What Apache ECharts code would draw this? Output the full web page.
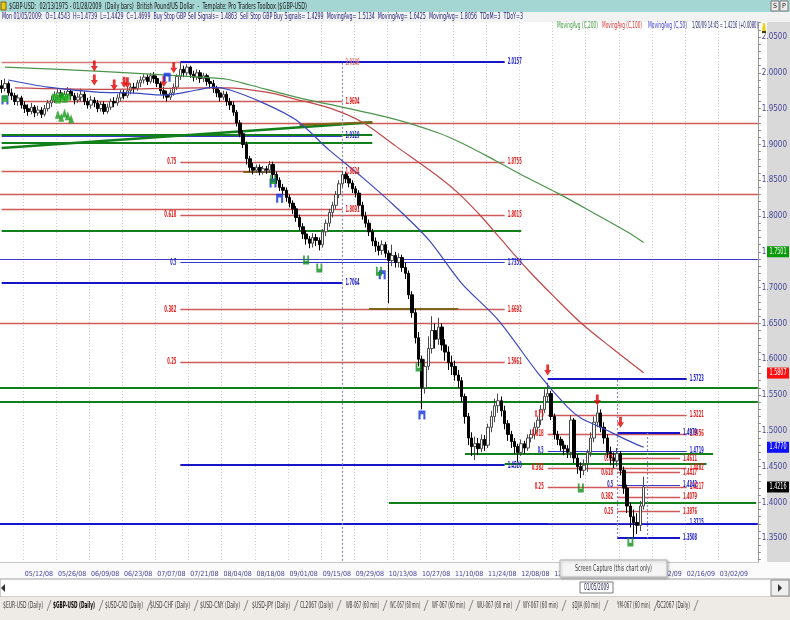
<!DOCTYPE html>
<html>
<head>
<meta charset="utf-8">
<script src="https://cdn.jsdelivr.net/npm/echarts@6.0.0/dist/echarts.min.js"></script>
<style>
html,body{margin:0;padding:0;background:#fff;}
#chart{width:790px;height:620px;}
</style>
</head>
<body>
<div id="chart"></div>
<script>
// ---------------- DATA ----------------
const titleText = '$GBP-USD:  02/13/1975 - 01/28/2009  (Daily bars)  British Pound/US Dollar  -  Template: Pro Traders Toolbox ($GBP-USD)';
const infoText = 'Mon 01/05/2009:  O=1.4543  H=1.4739  L=1.4429  C=1.4699  Buy Stop GBP Sell Signals= 1.4863  Sell Stop GBP Buy Signals= 1.4299  MovingAvg= 1.5134  MovingAvg= 1.6425  MovingAvg= 1.8056  TDoM=3  TDoY=3';
const legendNames = ['MovingAvg (C,200)', 'MovingAvg (C,100)', 'MovingAvg (C,50)'];
const lastQuote = '1/20/09 14:45 = 1.4216 (+0.0080)';
const firstDay = [2008, 4, 1];          // 05/01/2008
const dayCount = 229;                   // trading days on the time axis
const dateLabels = ['05/12/08','05/26/08','06/09/08','06/23/08','07/07/08','07/21/08','08/04/08','08/18/08','09/01/08','09/15/08','09/29/08','10/13/08','10/27/08','11/10/08','11/24/08','12/08/08','12/22/08','01/05/09','01/19/09','02/02/09','02/16/09','03/02/09'];
const priceTicks = [1.35,1.40,1.45,1.50,1.55,1.60,1.65,1.70,1.75,1.80,1.85,1.90,1.95,2.00,2.05];
const tabNames = ['$EUR-USD (Daily)','$GBP-USD (Daily)','$USD-CAD (Daily)','$USD-CHF (Daily)','$USD-CNY (Daily)','$USD-JPY (Daily)','CL2067 (Daily)','WB-067 (60 min)','WC-067 (60 min)','WF-067 (60 min)','WU-067 (60 min)','WY-067 (60 min)','$DJIA (60 min)','YM-067 (60 min)','GC2067 (Daily)'];

// daily candles [open, close, low, high], from 05/01/08
const candles = [
[1.982,1.978,1.972,1.990],[1.978,1.985,1.974,1.992],[1.985,1.972,1.968,1.988],[1.972,1.968,1.962,1.978],[1.968,1.960,1.955,1.972],
[1.960,1.965,1.954,1.970],[1.965,1.955,1.950,1.968],[1.955,1.950,1.944,1.960],[1.950,1.946,1.940,1.956],[1.946,1.952,1.942,1.958],
[1.952,1.944,1.938,1.955],[1.944,1.948,1.940,1.954],[1.948,1.942,1.937,1.952],[1.942,1.950,1.939,1.955],[1.950,1.958,1.946,1.962],
[1.958,1.962,1.952,1.968],[1.962,1.968,1.958,1.974],[1.968,1.972,1.962,1.978],[1.972,1.965,1.960,1.976],[1.965,1.970,1.960,1.975],
[1.970,1.974,1.964,1.980],[1.974,1.968,1.962,1.978],[1.968,1.962,1.956,1.972],[1.962,1.966,1.958,1.972],[1.966,1.970,1.960,1.978],
[1.970,1.960,1.955,1.974],[1.960,1.955,1.950,1.965],[1.955,1.962,1.950,1.968],[1.962,1.958,1.952,1.966],[1.958,1.950,1.945,1.962],
[1.950,1.956,1.946,1.960],[1.956,1.946,1.942,1.960],[1.946,1.952,1.943,1.957],[1.952,1.960,1.948,1.964],[1.960,1.958,1.952,1.966],
[1.958,1.965,1.954,1.970],[1.965,1.972,1.960,1.976],[1.972,1.968,1.963,1.977],[1.968,1.975,1.965,1.980],[1.975,1.980,1.970,1.985],
[1.980,1.978,1.972,1.986],[1.978,1.986,1.975,1.990],[1.986,1.990,1.980,1.995],[1.990,1.994,1.985,1.998],[1.994,1.988,1.983,1.998],
[1.988,1.996,1.985,2.000],[1.996,1.992,1.986,2.001],[1.992,1.985,1.980,1.996],[1.985,1.975,1.970,1.988],[1.975,1.970,1.964,1.980],
[1.970,1.966,1.960,1.975],[1.966,1.972,1.962,1.977],[1.972,1.980,1.968,1.985],[1.980,1.995,1.976,1.998],[1.995,2.005,1.990,2.015],
[2.005,2.000,1.994,2.010],[2.000,2.008,1.996,2.012],[2.008,1.998,1.993,2.010],[1.998,1.994,1.988,2.003],[1.994,2.000,1.990,2.005],
[2.000,1.992,1.986,2.004],[1.992,1.996,1.987,2.000],[1.996,1.988,1.982,1.999],[1.988,1.985,1.978,1.993],[1.985,1.978,1.972,1.990],
[1.978,1.972,1.966,1.982],[1.972,1.966,1.960,1.976],[1.966,1.970,1.962,1.975],[1.970,1.960,1.954,1.974],[1.960,1.955,1.948,1.965],
[1.955,1.945,1.940,1.960],[1.945,1.930,1.925,1.948],[1.930,1.915,1.910,1.934],[1.915,1.900,1.895,1.920],[1.900,1.880,1.872,1.904],
[1.880,1.868,1.862,1.884],[1.868,1.864,1.858,1.874],[1.864,1.868,1.860,1.872],[1.868,1.862,1.857,1.872],[1.862,1.866,1.858,1.870],
[1.866,1.864,1.859,1.870],[1.864,1.872,1.860,1.877],[1.872,1.858,1.852,1.876],[1.858,1.850,1.845,1.862],[1.850,1.840,1.835,1.854],
[1.840,1.836,1.830,1.845],[1.836,1.826,1.820,1.840],[1.826,1.818,1.812,1.830],[1.818,1.810,1.803,1.822],[1.810,1.798,1.792,1.814],
[1.798,1.785,1.780,1.802],[1.785,1.775,1.768,1.790],[1.775,1.768,1.760,1.780],[1.768,1.762,1.755,1.772],[1.762,1.770,1.756,1.776],
[1.770,1.766,1.758,1.775],[1.766,1.760,1.752,1.770],[1.760,1.778,1.756,1.782],[1.778,1.790,1.772,1.795],[1.790,1.805,1.785,1.810],
[1.805,1.815,1.798,1.820],[1.815,1.830,1.810,1.835],[1.830,1.845,1.825,1.850],[1.845,1.858,1.840,1.863],[1.858,1.852,1.846,1.862],
[1.852,1.846,1.840,1.856],[1.846,1.838,1.832,1.850],[1.838,1.832,1.826,1.842],[1.832,1.815,1.810,1.836],[1.815,1.800,1.795,1.820],
[1.800,1.790,1.784,1.806],[1.790,1.778,1.772,1.795],[1.778,1.765,1.758,1.782],[1.765,1.758,1.750,1.770],[1.758,1.752,1.745,1.764],
[1.752,1.760,1.746,1.766],[1.760,1.748,1.742,1.764],[1.748,1.738,1.678,1.752],[1.738,1.745,1.730,1.760],[1.745,1.735,1.728,1.750],
[1.735,1.742,1.728,1.748],[1.742,1.728,1.722,1.746],[1.728,1.720,1.712,1.735],[1.720,1.690,1.684,1.724],[1.690,1.665,1.658,1.695],
[1.665,1.630,1.622,1.670],[1.630,1.600,1.590,1.638],[1.600,1.560,1.530,1.605],[1.560,1.590,1.552,1.600],[1.590,1.615,1.585,1.632],
[1.615,1.640,1.608,1.660],[1.640,1.628,1.615,1.650],[1.628,1.645,1.620,1.658],[1.645,1.620,1.612,1.650],[1.620,1.610,1.598,1.628],
[1.610,1.595,1.585,1.618],[1.595,1.590,1.578,1.605],[1.590,1.578,1.570,1.598],[1.578,1.570,1.560,1.585],[1.570,1.548,1.540,1.575],
[1.548,1.520,1.510,1.552],[1.520,1.490,1.480,1.525],[1.490,1.478,1.465,1.498],[1.478,1.482,1.459,1.492],[1.482,1.475,1.466,1.490],
[1.475,1.488,1.470,1.495],[1.488,1.480,1.472,1.494],[1.480,1.505,1.476,1.510],[1.505,1.520,1.498,1.528],[1.520,1.535,1.512,1.545],
[1.535,1.542,1.525,1.552],[1.542,1.528,1.520,1.548],[1.528,1.510,1.502,1.535],[1.510,1.495,1.486,1.515],[1.495,1.485,1.476,1.500],
[1.485,1.478,1.468,1.490],[1.478,1.470,1.456,1.482],[1.470,1.482,1.465,1.488],[1.482,1.476,1.468,1.486],[1.476,1.490,1.472,1.495],
[1.490,1.495,1.484,1.502],[1.495,1.505,1.488,1.512],[1.505,1.515,1.498,1.520],[1.515,1.530,1.508,1.536],[1.530,1.548,1.525,1.558],
[1.548,1.552,1.540,1.567],[1.552,1.520,1.515,1.556],[1.520,1.495,1.488,1.524],[1.495,1.488,1.480,1.500],[1.488,1.480,1.472,1.492],
[1.480,1.475,1.466,1.486],[1.475,1.470,1.462,1.480],[1.470,1.515,1.462,1.522],[1.515,1.462,1.455,1.518],[1.462,1.450,1.440,1.468],
[1.450,1.445,1.434,1.456],[1.445,1.452,1.438,1.460],[1.4543,1.4699,1.4429,1.4739],[1.470,1.490,1.464,1.498],[1.490,1.512,1.484,1.520],
[1.512,1.525,1.505,1.536],[1.525,1.505,1.498,1.530],[1.505,1.490,1.482,1.512],[1.490,1.470,1.462,1.495],[1.470,1.462,1.452,1.478],
[1.462,1.458,1.448,1.470],[1.458,1.468,1.450,1.476],[1.468,1.445,1.438,1.472],[1.445,1.420,1.412,1.450],[1.420,1.395,1.385,1.425],
[1.395,1.380,1.365,1.400],[1.380,1.372,1.3508,1.390],[1.372,1.368,1.356,1.385],[1.368,1.395,1.360,1.402],[1.395,1.4216,1.390,1.436]
];

// moving averages: [day index, value]
const ma200 = [[1,2.008],[30,2.002],[60,1.994],[68,1.991],[75,1.983],[89,1.966],[104,1.951],[119,1.935],[132,1.916],[139,1.902],[149,1.878],[159,1.853],[168,1.832],[179,1.804],[189,1.778],[194,1.763]];
const ma100 = [[4,1.979],[30,1.977],[60,1.979],[68,1.979],[80,1.973],[89,1.963],[99,1.951],[109,1.931],[119,1.898],[132,1.855],[138,1.832],[145,1.799],[151,1.767],[159,1.725],[167,1.687],[175,1.651],[184,1.617],[194,1.581]];
const ma50 = [[2,1.990],[14,1.980],[29,1.973],[39,1.972],[49,1.969],[59,1.976],[64,1.980],[69,1.976],[79,1.958],[89,1.934],[99,1.892],[109,1.854],[119,1.813],[129,1.767],[139,1.706],[150,1.655],[162,1.581],[171,1.533],[175,1.518],[181,1.505],[189,1.487],[194,1.477]];

// full-width horizontal levels [value, kind]
const fullLevels = [[1.9295,'red'],[1.8307,'red'],[1.6534,'red'],[1.5556,'green'],[1.5416,'green'],[1.7427,'blue'],[1.3685,'blueBold']];
// partial levels [value, fromDay, toDay, kind, showValueLabel, fibRatio]
const segLevels = [
  [2.0148,0,103,'redLight',1,''],[1.9604,5,103,'red',1,''],[1.9119,0,103,'blue',1,''],[1.9141,0,112,'green',0,''],[1.9024,0,112,'green',0,''],
  [1.8624,0,103,'red',1,''],[1.8091,0,103,'red',1,''],[1.7064,0,103,'blueBold',1,''],
  [2.0157,54,152,'blueBold',1,''],[1.8755,54,152,'red',1,'0.75'],[1.8015,54,152,'red',1,'0.618'],[1.7353,54,152,'blue',1,'0.5'],
  [1.6692,54,152,'red',1,'0.382'],[1.5961,54,152,'red',1,'0.25'],[1.4520,54,152,'blueBold',1,''],
  [1.7790,0,157,'green',0,''],[1.8624,73,82,'brown',0,''],[1.6706,111,138,'brown',0,''],
  [1.5723,165,207,'blueBold',1,''],[1.5221,165,207,'red',1,'0.75'],[1.4956,165,207,'red',1,'0.618'],[1.4719,165,207,'blue',1,'0.5'],
  [1.4482,165,207,'red',1,'0.382'],[1.4217,165,207,'red',1,'0.25'],[1.3715,165,207,'blue',1,''],
  [1.4979,186,205,'blueBold',1,''],[1.4611,186,205,'red',1,'0.75'],[1.4417,186,205,'red',1,'0.618'],[1.4242,186,205,'blue',1,'0.5'],
  [1.4079,186,205,'red',1,'0.382'],[1.3876,186,205,'red',1,'0.25'],[1.3508,186,205,'blueBold',1,''],
  [1.4676,140,215,'green',0,''],[1.4536,152,213,'green',0,''],[1.3992,117,228,'green',0,'']
];
// sloped trend lines [[fromDay, value], [toDay, value], kind]
const trendLines = [[[0,1.895],[112,1.931],'greenBold'],[[90,1.927],[112,1.931],'brown']];
// vertical markers [day, topValue, bottomValue]
const cursorLines = [[103,2.014,1.317],[186,1.571,1.350],[195,1.497,1.350]];

// signal markers [day, price]
const sellArrows = [[28,2.0095],[28,1.990],[34,1.983],[37,1.987],[38,1.986],[49,1.988],[52,2.007],[165,1.585],[180,1.543],[187,1.512]];
const blueSignals = [[1,1.962],[50,1.994],[82,1.846],[84,1.825],[115,1.718],[127,1.522]];
const greenSignals = [[92,1.7385],[96,1.7274],[114,1.723],[126,1.589],[175,1.420],[190,1.3447],[82,1.851]];
const greenTriangles = [[17,1.942],[18,1.938],[19,1.944],[20,1.940],[21,1.936]];
const greenSquares = [[1,1.964],[16,1.966],[17,1.962],[18,1.967],[19,1.963],[20,1.966]];
// last values on the price scale [text, value, kind]
const scaleBoxes = [['1.7501',1.7501,'green'],['1.5807',1.5807,'red'],['1.4770',1.4770,'blue'],['1.4216',1.4216,'black']];

// ---------------- STYLE ----------------
const FONT = '"Liberation Sans Narrow","Arial Narrow","DejaVu Sans Condensed","Liberation Sans",sans-serif';
const KIND = {
  red:{color:'#cf5a5a',width:1.4}, redLight:{color:'#d97878',width:1.4}, blue:{color:'#3a3ac8',width:1.2},
  blueBold:{color:'#1616c8',width:2}, green:{color:'#12801a',width:2}, greenBold:{color:'#12801a',width:2.5},
  brown:{color:'#7d6418',width:2}
};
const TEXTCOL = {red:'#e01c1c',redLight:'#e07a7a',blue:'#2828c8',blueBold:'#2020c8',green:'#128a1a',brown:'#7d6418'};
const BOXCOL = {green:'#0a9a0a',red:'#ff1010',blue:'#1010ff',black:'#000000'};

// category axis of weekdays
const categories = [];
(function () {
  const d = new Date(Date.UTC(firstDay[0], firstDay[1], firstDay[2]));
  while (categories.length < dayCount) {
    const w = d.getUTCDay();
    if (w !== 0 && w !== 6) {
      const mm = String(d.getUTCMonth() + 1).padStart(2, '0');
      const dd = String(d.getUTCDate()).padStart(2, '0');
      const yy = String(d.getUTCFullYear() % 100).padStart(2, '0');
      categories.push(mm + '/' + dd + '/' + yy);
    }
    d.setUTCDate(d.getUTCDate() + 1);
  }
})();
const labelSet = new Set(dateLabels);
const minorTicks = [];
for (let k = 132; k <= 207; k++) minorTicks.push(k / 100);

const Y_MIN = 1.3168, Y_MAX = 2.0710;

const markLineData = [];
fullLevels.forEach(([v, k]) => markLineData.push({ yAxis: v, lineStyle: { color: KIND[k].color, width: KIND[k].width, type: 'solid' } }));
segLevels.forEach(([v, a, b, k]) => markLineData.push([{ coord: [a, v], lineStyle: { color: KIND[k].color, width: KIND[k].width, type: 'solid' } }, { coord: [b, v] }]));
trendLines.forEach(([p, q, k]) => markLineData.push([{ coord: p, lineStyle: { color: KIND[k].color, width: KIND[k].width, type: 'solid' } }, { coord: q }]));
cursorLines.forEach(([d, t, b]) => markLineData.push([{ coord: [d, t], lineStyle: { color: '#8a8ab8', width: 1.2, type: [2, 2] } }, { coord: [d, b] }]));

const chart = echarts.init(document.getElementById('chart'));
const option = {
  animation: false,
  backgroundColor: '#ffffff',
  grid: { left: 0, right: 25, top: 22, bottom: 58, containLabel: false },
  xAxis: {
    type: 'category', data: categories, boundaryGap: true,
    axisLine: { show: true, lineStyle: { color: '#c8c8c8' } },
    axisTick: { show: false },
    axisLabel: { interval: (i, v) => labelSet.has(v), align: 'left', color: '#45459a', fontSize: 7, fontFamily: FONT, margin: 9 },
    splitLine: { show: true, interval: (i, v) => labelSet.has(v), lineStyle: { color: '#cdcdcd', type: [1, 2] } }
  },
  yAxis: {
    type: 'value', position: 'right', min: Y_MIN, max: Y_MAX,
    axisLine: { show: true, lineStyle: { color: '#9a9a9a' } },
    axisTick: { show: true, customValues: minorTicks, length: 3, lineStyle: { color: '#8a8a8a' } },
    axisLabel: { customValues: priceTicks, formatter: v => v.toFixed(4), color: '#45459a', fontSize: 8, fontFamily: FONT, margin: 4 },
    splitLine: { show: false }
  },
  series: [
    { name: 'levels', type: 'line', data: [], silent: true, z: 1,
      markLine: { silent: true, z: 1, symbol: ['none', 'none'], label: { show: false }, emphasis: { disabled: true }, data: markLineData } },
    { name: 'GBP-USD', type: 'candlestick', data: candles, z: 3, barWidth: 3, silent: true,
      itemStyle: { color: '#ffffff', color0: '#000000', borderColor: '#4a4a4a', borderColor0: '#000000', borderWidth: 1 } },
    { name: legendNames[0], type: 'line', data: ma200, smooth: 0.3, symbol: 'none', z: 4, silent: true, lineStyle: { color: '#4c944c', width: 1.2 } },
    { name: legendNames[1], type: 'line', data: ma100, smooth: 0.3, symbol: 'none', z: 4, silent: true, lineStyle: { color: '#c04848', width: 1.2 } },
    { name: legendNames[2], type: 'line', data: ma50, smooth: 0.3, symbol: 'none', z: 4, silent: true, lineStyle: { color: '#3a48c0', width: 1.2 } },
    { name: 'sell', type: 'scatter', data: sellArrows, z: 6, silent: true, symbol: 'path://M3,0L7,0L7,6L10,6L5,12L0,6L3,6Z', symbolSize: [7, 11], itemStyle: { color: '#e00000' } },
    { name: 'blueSig', type: 'scatter', data: blueSignals, z: 6, silent: true, symbol: 'path://M0,0H10V12H7V5H3V12H0Z', symbolSize: [7, 9], itemStyle: { color: '#1030e0' } },
    { name: 'greenSig', type: 'scatter', data: greenSignals, z: 6, silent: true, symbol: 'path://M0,0H3V7H7V0H10V12H0Z', symbolSize: [6, 9], itemStyle: { color: '#10901a' } },
    { name: 'greenTri', type: 'scatter', data: greenTriangles, z: 6, silent: true, symbol: 'triangle', symbolSize: [6, 9], itemStyle: { color: '#1a9a1a' } },
    { name: 'greenSq', type: 'scatter', data: greenSquares, z: 6, silent: true, symbol: 'rect', symbolSize: [6, 7], itemStyle: { color: '#22b022' } }
  ]
};
chart.setOption(option);

// ---------------- TEXT / FRAME ----------------
const mctx = document.createElement('canvas').getContext('2d');
function T(text, x, y, w, color, o) {
  o = o || {};
  const size = o.size || 9;
  const font = (o.bold ? 'bold ' : '') + size + 'px ' + FONT;
  mctx.font = font;
  const mw = mctx.measureText(text).width || 1;
  const sx = w ? w / mw : 1;
  const align = o.align || 'left';
  return { type: 'text', x: x, y: y, scaleX: sx, z: o.z == null ? 100 : o.z, silent: true,
    style: { text: text, font: font, fill: color, align: align, verticalAlign: 'middle', textAlign: align, textVerticalAlign: 'middle' } };
}
function R(x, y, w, h, fill, stroke, z) {
  return { type: 'rect', shape: { x: x, y: y, width: w, height: h }, z: z == null ? 100 : z, silent: true,
    style: { fill: fill, stroke: stroke || null, lineWidth: stroke ? 1 : 0 } };
}
function L(x1, y1, x2, y2, color, z) {
  return { type: 'line', shape: { x1: x1, y1: y1, x2: x2, y2: y2 }, z: z == null ? 100 : z, silent: true, style: { stroke: color, lineWidth: 1 } };
}
function P(points, fill, z) {
  return { type: 'polygon', shape: { points: points }, z: z == null ? 100 : z, silent: true, style: { fill: fill } };
}
const px = (d, v) => chart.convertToPixel({ gridIndex: 0 }, [d, v]);

const G = [];
// price-scale strip
G.push(R(767, 22, 23, 540, '#d9d9d9', null, -1));
// title bar
G.push(R(0, 0, 790, 12, '#a4d6d4'));
G.push(R(1, 2, 5, 8, '#e8c818', '#806000'));
G.push(T(titleText, 9, 6.5, 298, '#141414', { size: 9 }));
G.push(R(771, 1, 8, 10, '#ececec', '#7a7a7a'));
G.push(R(780, 1, 8, 10, '#ececec', '#7a7a7a'));
G.push(T('S', 775, 6, 0, '#202020', { size: 7, align: 'center' }));
G.push(T('P', 784, 6, 0, '#202020', { size: 7, align: 'center' }));
// info bar
G.push(R(0, 12, 790, 10, '#f2f2f2'));
G.push(T(infoText, 2, 17, 521, '#22227a', { size: 9 }));
// legend
G.push(T(legendNames[0], 557, 26, 41, '#3c9a3c', { size: 9 }));
G.push(T(legendNames[1], 602, 26, 40, '#e03030', { size: 9 }));
G.push(T(legendNames[2], 648, 26, 39, '#3a3ad0', { size: 9 }));
G.push(T(lastQuote, 692, 26, 66, '#22226a', { size: 9 }));
G.push(P([[763, 23], [765, 23], [766, 31], [762, 31]], '#e8d020'));
G.push(R(762, 31, 4, 2, '#404000'));

// level labels
segLevels.forEach(([v, a, b, k, showVal, ratio]) => {
  if (showVal) {
    const p = px(b, v);
    G.push(T(v.toFixed(4), p[0] + 3, p[1], 14, TEXTCOL[k], { size: 9, bold: true, z: 50 }));
  }
  if (ratio) {
    const p = px(a, v);
    const w = ratio.length === 3 ? 6 : (ratio.length === 4 ? 9 : 12);
    G.push(T(ratio, p[0] - 4, p[1], w, TEXTCOL[k], { size: 9, bold: true, align: 'right', z: 50 }));
  }
});
// boxes on the price scale
scaleBoxes.forEach(([t, v, k]) => {
  const p = px(0, v);
  G.push(R(767, p[1] - 5.5, 22, 11, BOXCOL[k], null, 50));
  G.push(T(t, 778, p[1], 17, '#ffffff', { size: 8, align: 'center', z: 51 }));
});

// date row / scrollbar / tabs
G.push(R(0, 562, 790, 17, '#fbfbfb', null, -1));
G.push(R(0, 579, 790, 18, '#ffffff', '#a0a0a0'));
G.push(P([[5, 584], [5, 592], [1, 588]], '#303030'));
G.push(R(771, 580, 18, 16, '#efefef', '#8a8a8a'));
G.push(P([[778, 584], [778, 592], [782, 588]], '#303030'));
G.push(R(580, 582, 33, 11, '#ffffff', '#7a7a7a'));
G.push(T('01/05/2009', 596.5, 587.5, 25, '#202050', { size: 8, align: 'center' }));
G.push(R(0, 597, 790, 23, '#eeebe6'));
const tabX = [3, 53, 105, 150, 200, 252, 300, 346, 390, 432, 477, 523, 572, 617, 657];
const tabW = [40, 42, 38, 40, 40, 38, 33, 33, 30, 33, 35, 35, 28, 33, 33];
tabNames.forEach((n, i) => {
  G.push(T(n, tabX[i], 606, tabW[i], i === 1 ? '#000000' : '#3a3a3a', { size: 9, bold: i === 1 }));
  const sx = tabX[i] + tabW[i] + 4;
  G.push(L(sx, 611, sx + 4, 600, '#8a8a8a'));
});
// popup over the date axis
G.push({ type: 'rect', shape: { x: 560, y: 560, width: 107, height: 17 }, z: 110, silent: true,
  style: { fill: '#f5f5f5', stroke: '#b4b4b4', lineWidth: 1, shadowBlur: 3, shadowColor: 'rgba(0,0,0,0.25)', shadowOffsetX: 1, shadowOffsetY: 1 } });
G.push(T('Screen Capture (this chart only)', 613.5, 569, 77, '#3c3c3c', { size: 9, align: 'center', z: 111 }));

chart.setOption({ graphic: G });
</script>
</body>
</html>
